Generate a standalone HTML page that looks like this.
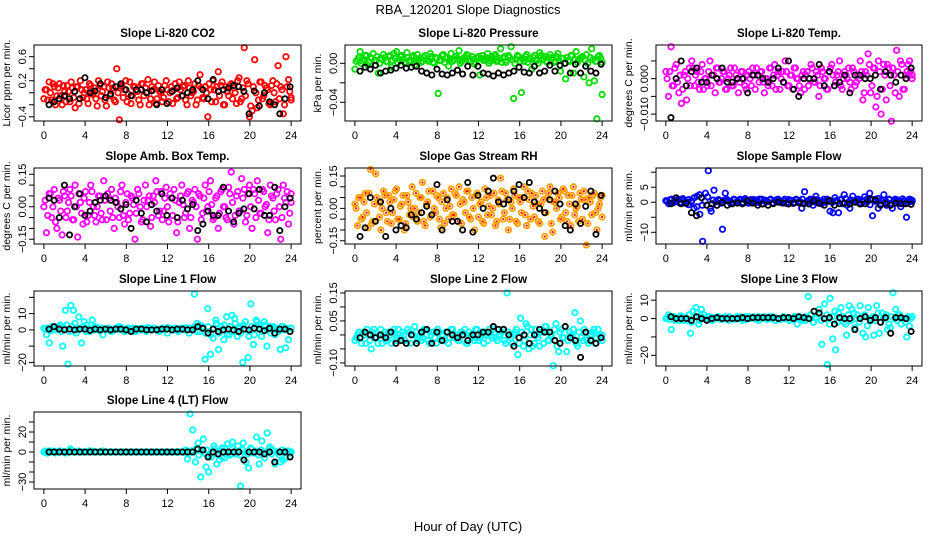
<!DOCTYPE html>
<html><head><meta charset="utf-8"><style>
body{margin:0;background:#fff;}
svg{display:block;font-family:"Liberation Sans",Arial,sans-serif;}
</style></head><body>
<svg id="chart" width="936" height="540" viewBox="0 0 936 540">
<text x="468" y="14" text-anchor="middle" font-size="13">RBA_120201  Slope Diagnostics</text>
<text x="468" y="531" text-anchor="middle" font-size="13">Hour of Day (UTC)</text>
</svg>
<script>
// ---------- data ----------
const xTicks=[0,4,8,12,16,20,24];
const titles=["Slope Li-820 CO2","Slope Li-820 Pressure","Slope Li-820 Temp.","Slope Amb. Box Temp.","Slope Gas Stream RH","Slope Sample Flow","Slope Line 1 Flow","Slope Line 2 Flow","Slope Line 3 Flow","Slope Line 4 (LT) Flow"];
const yTitles=["Licor ppm per min.","kPa per min.","degrees C per min.","degrees C per min.","percent per min.","ml/min per min.","ml/min per min.","ml/min per min.","ml/min per min.","ml/min per min."];
const colors=["#ff0000","#00dd00","#ff00ff","#ff00ff","#ffa000","#0000ff","#00ffff","#00ffff","#00ffff","#00ffff"];
const yRanges=[[-0.47,0.795],[-0.0592,0.0188],[-0.01195,0.0095],[-0.172,0.179],[-0.165,0.187],[-13.9,11.4],[-22.2,23.9],[-0.111,0.157],[-25.8,15.0],[-37,40]];
const yTicks=[[-0.4,-0.2,0,0.2,0.4,0.6],[-0.04,-0.02,0],[-0.01,-0.005,0,0.005],[-0.15,-0.1,-0.05,0,0.05,0.1,0.15],[-0.15,-0.1,-0.05,0,0.05,0.1,0.15],[-10,-5,0,5,10],[-20,-10,0,10,20],[-0.1,-0.05,0,0.05,0.1,0.15],[-20,-10,0,10],[-30,-20,-10,0,10,20,30]];
const yTickLabels=[{"-0.4":"-0.4","0.2":"0.2","0.6":"0.6"},{"-0.04":"-0.04","0":"0.00"},{"-0.01":"-0.010","0":"0.000"},{"-0.15":"-0.15","0":"0.00","0.15":"0.15"},{"-0.15":"-0.15","0":"0.00","0.15":"0.15"},{"-10":"-10","0":"0","5":"5"},{"-20":"-20","0":"0","10":"10"},{"-0.1":"-0.10","0.05":"0.05","0.15":"0.15"},{"-20":"-20","0":"0","10":"10"},{"-30":"-30","0":"0","20":"20"}];
const col0=[-0.1,0.05,0.18,-0.12,0.1,-0.05,0.15,-0.2,0.02,0.12,-0.15,0.08,-0.25,0.1,0.2,-0.08,0.05,-0.18,0.12,0.0,-0.1,0.2,-0.05,0.1,-0.22,0.08,0.15,-0.12,0.4,-0.45,0.1,0.05,-0.15,0.18,-0.05,0.1,0.02,-0.2,0.15,0.08,0.22,-0.1,0.05,-0.18,0.12,0.0,-0.08,0.2,-0.15,0.1,0.05,-0.1,0.18,-0.05,0.12,-0.2,0.08,0.0,0.15,-0.12,0.3,-0.08,0.1,-0.4,0.05,0.2,-0.15,0.35,0.12,-0.2,0.1,-0.05,0.15,0.08,-0.18,0.25,-0.1,0.75,0.2,-0.4,-0.3,0.55,-0.25,0.18,-0.1,0.12,0.05,-0.2,0.2,-0.15,0.45,0.1,-0.35,0.6,0.22,-0.12];
const band0=[0.05,-0.12,0.0,0.15,-0.2,0.08,-0.05,0.12,-0.15,0.02,0.18,-0.08,0.1,-0.18,0.05,0.0,-0.1,0.15,-0.02,0.08,-0.22,0.12,0.02,-0.12,0.18,-0.05,0.08,-0.15,0.0,0.12,-0.08,0.2,-0.02,-0.18,0.1,0.05,-0.12,0.15,-0.05,0.0,-0.2,0.1,0.18,-0.1,0.02,-0.15,0.12,0.05,0.0,-0.18,0.15,-0.08,0.05,0.1,-0.12,0.2,-0.05,0.02,-0.2,0.12,0.08,-0.1,0.0,0.15,-0.15,0.05,0.1,-0.05,0.18,-0.2,0.02,0.12,-0.1,0.0,0.2,-0.15,0.08,-0.05,0.15,-0.22,0.1,0.0,-0.12,0.18,-0.05,0.08,-0.18,0.12,0.0,0.15,-0.1,0.05,-0.2,0.1,0.02,-0.08];
const blk0=[-0.2,-0.15,-0.1,-0.05,-0.1,0.02,-0.1,0.25,0.0,0.03,0.15,-0.08,-0.02,0.1,0.15,0.05,-0.05,0.05,0.05,0.0,0.03,-0.2,0.05,-0.18,0.02,0.08,-0.05,0.0,0.05,0.2,0.05,-0.1,0.22,0.02,0.05,0.08,0.12,0.1,0.02,-0.35,0.03,-0.22,0.0,-0.15,-0.2,-0.35,-0.1,0.1];
const col1=[-0.006,0.004,0.012,0.002,0.008,-0.002,0.006,0.01,0.003,-0.01,0.005,0.009,0.002,0.007,-0.004,0.01,0.012,0.004,0.008,0.001,0.011,0.003,0.006,-0.002,0.009,0.005,0.002,0.008,0.004,0.01,0.001,0.006,-0.031,0.003,0.009,0.005,-0.003,0.01,0.004,0.007,0.013,0.002,0.006,0.009,0.003,0.007,-0.001,0.005,-0.012,0.008,0.004,0.01,0.002,0.006,0.009,0.003,0.015,0.005,0.001,0.008,0.017,-0.036,0.004,0.007,-0.03,0.002,0.009,0.005,-0.006,0.008,0.003,0.011,0.004,0.007,0.001,0.009,0.006,0.002,0.01,-0.008,0.005,-0.016,0.003,0.008,-0.01,0.012,0.004,0.006,-0.014,0.009,-0.02,0.015,-0.018,-0.057,0.008,-0.032];
const band1=[0.002,0.006,0.0,0.004,0.008,0.001,0.005,0.003,0.007,0.0,0.004,0.006,0.002,0.008,0.003,0.005,0.001,0.007,0.004,0.0,0.006,0.002,0.008,0.005,0.003,0.001,0.006,0.004,0.002,0.007,0.0,0.005,0.003,0.008,0.001,0.006,0.004,0.002,0.007,0.005,0.0,0.003,0.006,0.008,0.002,0.004,0.001,0.007,0.005,0.003,0.006,0.0,0.004,0.008,0.002,0.005,0.001,0.007,0.003,0.006,0.004,0.0,0.008,0.002,0.005,0.007,0.001,0.004,0.006,0.003,0.0,0.008,0.005,0.002,0.006,0.004,0.001,0.007,0.003,0.005,0.0,0.006,0.002,0.008,0.004,0.001,0.005,0.007,0.003,0.0,0.006,0.004,0.002,0.007,0.005,0.001];
const blk1=[-0.008,-0.004,-0.006,-0.002,-0.01,-0.008,-0.007,-0.005,-0.002,-0.005,-0.004,-0.003,-0.008,-0.01,-0.012,-0.006,-0.011,-0.012,-0.01,-0.007,-0.011,-0.003,-0.012,-0.003,-0.01,-0.011,-0.013,-0.01,-0.012,-0.01,-0.008,-0.004,-0.009,-0.01,-0.003,-0.01,-0.008,-0.002,-0.008,-0.002,0.0,-0.01,-0.001,-0.01,-0.003,-0.008,-0.01,-0.001];
const col2=[0.002,-0.005,0.009,-0.002,0.004,-0.004,-0.007,0.001,-0.006,0.003,0.005,-0.002,0.002,-0.003,0.004,0.0,-0.002,0.005,0.001,-0.004,0.003,-0.001,0.002,-0.003,0.0,0.003,-0.002,0.001,-0.004,0.002,0.0,-0.003,0.002,-0.002,0.001,0.003,-0.001,0.002,-0.004,0.0,0.003,-0.002,0.004,0.001,-0.003,0.002,0.005,-0.002,0.001,-0.003,0.003,0.0,-0.004,0.002,0.001,-0.002,0.004,-0.001,0.002,-0.005,0.003,0.0,-0.003,0.002,0.004,-0.002,0.001,0.005,-0.003,0.002,0.0,-0.001,0.003,-0.002,0.001,0.005,-0.006,0.002,0.007,-0.004,0.003,-0.008,0.005,-0.01,0.004,-0.006,0.003,-0.012,0.001,0.008,-0.005,0.004,-0.003,0.002,0.005,0.001];
const band2=[0.0,0.002,-0.002,0.003,-0.001,0.001,-0.003,0.002,0.0,-0.002,0.003,0.001,-0.001,0.002,-0.003,0.0,0.002,-0.002,0.001,0.003,-0.001,0.0,0.002,-0.003,0.001,-0.002,0.003,0.0,-0.001,0.002,-0.002,0.001,0.0,0.003,-0.003,0.001,0.002,-0.001,0.0,-0.002,0.003,0.001,-0.003,0.002,0.0,-0.001,0.002,-0.002,0.001,0.003,0.0,-0.002,0.001,-0.003,0.002,0.0,0.003,-0.001,0.001,-0.002,0.002,0.0,-0.003,0.003,0.001,-0.001,0.002,-0.002,0.0,0.001,0.003,-0.003,0.002,-0.001,0.0,0.002,-0.004,0.001,0.004,-0.002,0.003,-0.005,0.002,-0.003,0.001,0.004,-0.002,0.003,-0.004,0.002,0.005,-0.003,0.001,0.004,0.002,0.0];
const blk2=[-0.011,0.0,0.005,-0.002,0.002,0.003,-0.001,-0.001,0.001,0.0,0.003,-0.001,-0.001,0.0,0.0,-0.004,0.001,0.001,0.0,-0.001,0.0,0.003,-0.001,0.005,-0.003,-0.005,0.0,0.0,0.0,0.004,-0.002,0.002,-0.002,-0.001,0.001,-0.004,0.001,0.001,0.0,0.0,0.001,-0.003,0.002,0.001,-0.001,0.001,0.0,0.003];
const col3=[0.0,-0.12,0.06,-0.05,0.08,-0.1,0.03,-0.13,0.05,-0.02,0.08,-0.06,0.1,-0.14,0.02,-0.08,0.07,-0.04,0.1,0.0,-0.07,0.05,-0.03,0.12,-0.06,0.04,0.08,-0.1,0.02,-0.05,0.1,-0.08,0.06,-0.03,0.04,-0.15,0.08,0.0,-0.06,0.1,0.03,-0.09,0.05,0.12,-0.04,0.07,-0.02,0.09,-0.07,0.04,0.08,-0.12,0.02,0.1,-0.05,0.06,-0.1,0.03,0.08,-0.15,0.05,-0.03,0.1,0.0,0.12,-0.06,0.04,-0.1,0.07,0.0,-0.05,0.09,0.16,-0.08,0.05,-0.02,0.13,0.08,-0.04,0.1,-0.1,0.06,0.12,-0.03,0.08,0.0,-0.12,0.1,0.04,-0.06,0.08,-0.15,0.1,0.02,-0.08,0.06];
const band3=[0.03,-0.04,0.06,0.0,-0.07,0.04,-0.02,0.07,-0.05,0.02,0.05,-0.06,0.0,0.06,-0.03,0.04,-0.07,0.02,0.07,-0.04,0.0,0.05,-0.06,0.03,0.06,-0.02,-0.05,0.04,0.0,0.07,-0.04,0.02,-0.06,0.05,0.01,-0.03,0.06,-0.07,0.03,0.0,0.05,-0.05,0.02,0.07,-0.02,-0.06,0.04,0.0,0.06,-0.04,0.03,-0.07,0.05,0.01,-0.03,0.07,-0.05,0.02,0.0,0.06,-0.06,0.04,-0.02,0.07,0.01,-0.05,0.05,-0.03,0.08,0.0,-0.06,0.06,0.02,-0.04,0.07,-0.02,0.04,-0.07,0.06,0.0,0.08,-0.05,0.03,-0.03,0.07,0.01,-0.06,0.05,-0.02,0.06,0.0,-0.05,0.04,0.07,-0.03,0.02];
const blk3=[0.04,0.03,-0.05,0.1,-0.13,0.0,0.06,-0.04,-0.02,0.02,0.03,0.05,0.03,0.02,-0.01,0.01,-0.1,0.03,-0.03,-0.07,0.01,-0.02,0.06,-0.04,0.04,-0.05,0.03,-0.01,0.01,-0.11,-0.08,-0.02,-0.04,-0.04,0.09,-0.02,-0.07,-0.03,-0.01,0.06,-0.01,0.08,-0.04,-0.04,0.09,-0.11,0.0,0.04];
const col4=[0.02,-0.08,0.05,-0.04,0.07,-0.09,0.18,-0.06,0.16,0.03,-0.1,0.08,-0.02,0.06,-0.07,0.04,0.09,-0.05,0.02,-0.1,0.06,-0.03,0.1,0.0,-0.06,0.05,0.12,-0.08,0.03,-0.04,0.08,-0.02,0.05,-0.09,0.07,0.0,-0.05,0.09,-0.03,0.06,0.1,-0.07,0.03,0.08,-0.04,0.05,-0.1,0.07,0.02,-0.06,0.09,-0.03,0.06,0.0,-0.08,0.04,0.14,-0.05,0.07,-0.1,0.03,0.09,-0.06,0.05,-0.02,0.1,-0.08,0.04,0.07,-0.04,0.02,-0.07,0.08,-0.13,0.05,0.1,-0.11,0.03,0.07,-0.05,0.09,-0.02,0.06,-0.08,0.1,0.0,-0.06,0.04,0.08,-0.17,0.05,-0.03,0.07,-0.1,0.02,0.06];
const band4=[0.0,0.05,-0.05,0.03,-0.02,0.07,-0.07,0.02,0.05,-0.04,0.0,0.06,-0.06,0.03,-0.02,0.08,-0.05,0.01,0.06,-0.07,0.03,0.0,-0.04,0.07,-0.02,0.05,-0.06,0.02,0.08,-0.03,0.0,0.06,-0.05,0.03,-0.07,0.05,0.01,-0.03,0.07,-0.06,0.02,0.04,-0.02,0.08,-0.05,0.0,0.06,-0.04,0.03,-0.07,0.05,0.01,-0.03,0.07,-0.06,0.02,0.08,-0.02,0.04,-0.05,0.0,0.06,-0.07,0.03,0.05,-0.03,0.08,-0.05,0.01,0.06,-0.06,0.02,0.04,-0.02,0.07,-0.07,0.03,0.0,0.05,-0.04,0.08,-0.06,0.02,0.06,-0.03,0.01,0.07,-0.05,0.04,-0.07,0.03,0.06,-0.02,0.0,0.05,-0.04];
const blk4=[-0.13,-0.09,0.05,-0.06,0.03,-0.13,0.0,-0.1,-0.08,-0.09,-0.03,-0.05,-0.02,0.01,-0.03,0.11,-0.1,0.04,-0.06,-0.06,-0.1,0.12,-0.11,0.06,0.0,0.08,0.14,0.03,0.02,0.04,0.08,0.11,0.05,0.12,0.03,0.0,-0.02,0.04,0.08,0.02,-0.08,-0.1,0.02,-0.07,0.01,0.08,-0.12,0.06];
const col5=[0.5,-0.5,1,0,0.8,-0.3,1.2,0.2,-0.8,0.5,-2,2,-4,-13,3,10.5,-3,4,-1,0.5,-9,3,0.5,-0.5,1,0,0.8,-0.5,1.2,0.3,-0.2,0.9,0,1,-0.5,0.7,0.2,1,-0.3,0.8,0.4,-0.2,1,0,0.6,-0.4,1,0.2,-2,3.5,0,1,-1,2,0.5,-0.5,0,1,-3,-3.5,0.5,-3.5,1,2.5,-1,-2,2,0.5,1,-0.5,0.3,1,3,-4.5,1,-2,0.5,2.5,-1,0.8,-2,1,0,-1.5,0.5,-5,1,0.3];
const band5=[0.3,0.8,-0.2,0.5,1.0,0.0,0.6,-0.4,0.9,0.2,1.5,-1.5,2.5,-1,0.4,1.8,-2,0.7,0.1,0.9,-0.3,0.6,1.0,0.2,-0.2,0.8,0.4,1.0,0.0,0.6,-0.3,0.9,0.3,0.7,-0.1,1.0,0.5,0.2,0.8,-0.2,0.6,1.0,0.1,0.4,-0.3,0.9,0.6,0.0,0.8,0.3,1.0,-0.2,0.5,0.7,0.1,0.9,-0.3,0.4,1.0,0.2,0.6,-0.1,1.5,0.3,0.8,-0.5,1.2,0.0,0.7,0.4,1.0,-0.2,0.6,1.8,0.2,-0.8,0.9,0.3,1.2,-0.4,0.7,0.1,1.0,-0.3,0.5,0.8,0.0,1.1,0.4,-0.2,0.9,0.6];
const blk5=[-0.5,1.5,-0.5,-0.3,-3.5,-4.5,1.5,-1,-0.5,-1,0,-1,-0.5,-0.3,-0.5,0.5,-0.3,-1,-0.6,-1,-0.5,0,-0.3,-0.6,-0.3,-0.2,-0.5,-0.6,0.5,-0.3,-1,0.5,-1,-0.5,-0.3,-0.6,0,-0.6,-0.5,1,0.8,-1,-0.5,-1,-0.3,-0.5,-0.5,-0.7];
const col6=[1,-3,-8,2,0,1,3,-10,12,-21,15,12,-2,8,-8,5,3,-1,6,2,0,1,-3,0,1,-1,0,1,2,0,-1,1,0,1,-1,0,1,0,-1,1,0,1,0,-1,1,0,-2,1,0,1,-1,0,1,0,-2,1,22,4,-1,2,-18,13,-15,-5,6,-12,2,-6,8,-3,9,7,-4,2,-20,5,-17,16,-9,6,3,-4,5,-10,2,1,-3,0,-12,2,-11,-6,1];
const band6=[0.5,1,-0.5,1.5,0,2,-1,1,3,-1,2,4,0,1,2,-1,1,0.5,0,1.5,-0.5,1,0,1,0.5,-0.5,1,0,1.5,0.5,0,1,-0.5,1,0.5,0,1,-0.5,1.5,0,1,0.5,-0.5,1,0,1.5,0.5,0,1,-0.5,1,0,1.5,0.5,0,2,-1,3,1,-2,2,-3,1,4,-2,0,3,-3,2,-1,4,1,-2,3,0,-4,2,-3,5,1,-1,3,0,-2,2,1,-1,2,0,1,-1,1];
const blk6=[0.5,2,0.5,0,0.5,0,0.5,0.5,-0.3,0.5,0,0.5,0,0.5,0.5,0,-1,0.5,0.5,0,0,0,0.5,0.5,0,0.5,0.5,0,0,2,1,-2,0.5,-1,0,0.5,0,-1,0.5,0,1,0.5,-0.5,1,-2,0.5,0.5,-1];
const col7=[-0.02,0.0,-0.01,0.01,-0.03,0.0,-0.05,0.02,-0.01,0.0,-0.03,0.01,-0.02,0.0,0.01,-0.02,0.02,-0.01,0.0,-0.03,0.01,0.0,0.03,-0.02,0.0,-0.01,0.02,-0.02,0.0,0.01,-0.03,0.01,0.0,-0.02,0.01,-0.01,0.02,0.0,-0.02,0.01,0.0,-0.03,0.01,0.0,-0.02,0.02,-0.01,0.0,0.01,-0.02,0.0,0.02,-0.01,0.0,0.01,-0.02,0.15,0.0,-0.03,0.01,-0.07,0.06,-0.04,0.04,-0.05,0.02,-0.03,0.0,-0.04,0.01,0.03,-0.02,0.0,-0.11,0.04,-0.06,0.02,-0.01,-0.06,0.01,0.0,0.08,-0.04,0.05,-0.02,0.01,-0.03,0.0,0.02,-0.01,0.0,-0.02];
const band7=[-0.01,0.01,-0.03,0.0,0.02,-0.02,0.01,-0.01,-0.03,0.02,0.0,-0.02,0.01,-0.03,0.02,-0.01,0.0,0.01,-0.02,0.02,-0.03,0.0,0.01,-0.01,-0.02,0.02,0.0,-0.03,0.01,-0.01,0.02,-0.02,0.0,0.01,-0.03,0.02,-0.01,0.0,-0.02,0.01,0.02,-0.03,0.0,-0.01,0.02,-0.02,0.01,-0.03,0.0,0.02,-0.01,0.01,-0.02,0.0,0.02,-0.03,0.01,-0.01,0.0,0.02,-0.03,0.01,-0.02,0.03,0.0,-0.04,0.02,-0.01,0.01,-0.03,0.03,-0.02,0.0,0.02,-0.04,0.01,-0.01,0.03,-0.02,0.0,0.02,-0.03,0.01,-0.01,0.02,-0.02,0.0,0.01,-0.03,0.02,-0.01,0.0];
const blk7=[-0.01,0.01,0.0,-0.01,0.0,-0.01,0.01,-0.03,-0.02,-0.03,0.0,-0.03,0.01,0.02,-0.03,0.01,-0.02,0.01,0.0,-0.01,0.0,-0.02,0.0,0.0,0.01,0.01,0.03,0.02,0.02,0.0,-0.04,-0.01,0.0,-0.03,0.0,0.02,0.01,0.01,-0.02,-0.03,0.03,-0.01,-0.02,-0.08,0.01,-0.02,-0.03,-0.01];
const col8=[0,2,-6,1,0,-1,1,0,-1,-8,4,6,-3,5,2,0,1,-1,0,1,0,0,1,-1,0,0,1,0,-1,1,0,0,1,0,-1,0,1,0,0,1,-1,0,0,1,0,-1,0,1,-3,1,0,-1,12,2,-2,0,5,-14,8,-25,11,-11,-17,3,6,-2,-9,7,5,-5,2,7,-8,-10,6,-1,-9,7,-8,3,1,-6,-5,14,5,2,-3,0,-10,-4,1];
const band8=[0.5,-0.5,1,-1,0,1.5,-1,0.5,2,-2,1,3,-1,0.5,0,1,-0.5,0.5,0,1,-0.5,0.5,0,1,0,-0.5,0.5,1,0,-0.5,1,0,0.5,-0.5,1,0,0.5,-0.5,1,0,0.5,0,-0.5,1,0,0.5,-0.5,1,0,0.5,-1,1,0,2,-2,1,3,-1,0,2,-3,1,4,-2,0,1,-3,2,-1,3,0,-2,1,2,-4,0,1,-1,3,-2,0,2,-3,1,0,-1,2,0,-2,1,0,1];
const blk8=[1,0,0,0,-1,1,0,-1,0,0.5,0,0,0,0,0.5,0,0.5,0.5,0.5,0.5,0.5,0,0.5,0.5,0,1,0.5,0,4,3,0,0.5,-3,0.5,0,0,-6,0,1,-1,0.5,-2,0.5,-8,0.5,0.5,0,-7];
const col9=[0,-1,1,0,0,0,1,0,0,0,3,0,0,0,0,0,0,0,1,0,0,0,0,0,0,0,0,0,0,0,0,0,0,0,0,0,0,0,0,0,0,0,0,0,0,0,0,0,0,0,0,0,0,0,-7,38,22,-10,9,-25,13,-15,-20,-5,6,-12,-8,4,-6,8,-3,10,-2,6,-34,9,-10,-16,3,-1,15,-12,11,-6,19,5,2,-12,0,-10,-8,-6,1,0];
const band9=[1,-1,0,1,-1,0,1,0,-1,0,1,0,0,1,0,0,0,1,0,0,0,0,1,0,0,0,0,0,0,0,0,0,0,0,0,0,0,0,0,0,0,0,0,0,0,0,0,0,0,0,0,0,0,0,2,-2,1,0,3,-3,1,-1,2,-4,0,3,-2,1,-5,4,0,-2,3,-1,1,-3,2,0,-2,4,-1,1,-3,2,0,-1,3,-2,1,0,-3,2,0,1,-1,0];
const blk9=[0,0,0,0,0,0,0,0,0,0,0,0,0,0,0,0,0,0,0,0,0,0,0,0,0,0,0,0,0,3,2,-5,0,-2,0,0,0,0,-8,0,0,0,-2,0,-10,0,0,-5];
const colSeries=[col0,col1,col2,col3,col4,col5,col6,col7,col8,col9];
const bandSeries=[band0,band1,band2,band3,band4,band5,band6,band7,band8,band9];
const blkSeries=[blk0,blk1,blk2,blk3,blk4,blk5,blk6,blk7,blk8,blk9];

// ---------- layout ----------
const NS="http://www.w3.org/2000/svg";
const svg=document.getElementById('chart');
const colX=[[34,301],[345,612],[656,922]];
const rowY=[[45,121],[168,244],[291,366],[412,489]];
function mk(tag,attrs,parent){const e=document.createElementNS(NS,tag);for(const k in attrs)e.setAttribute(k,attrs[k]);(parent||svg).appendChild(e);return e;}
function fmtKey(v){return String(+v.toFixed(6));}

for(let p=0;p<10;p++){
  const L=colX[p%3][0],R=colX[p%3][1],T=rowY[Math.floor(p/3)][0],B=rowY[Math.floor(p/3)][1];
  const g=mk('g',{});
  
  
  const pad=(R-L)*0.04/1.08;
  const xs=h=>L+pad+h/24*(R-L-2*pad);
  const [y0,y1]=yRanges[p];
  const ys=v=>B-(v-y0)/(y1-y0)*(B-T);
  const t=mk('text',{x:(L+R)/2,y:T-8,'text-anchor':'middle','font-size':11.5,'font-weight':'bold'},g);
  t.textContent=titles[p];
  
  
  const yt=mk('text',{x:0,y:0,'text-anchor':'middle','font-size':10.5,transform:`translate(${L-24},${(T+B)/2}) rotate(-90)`},g);
  yt.textContent=yTitles[p];
  
  
  const cg=mk('g',{fill:'none',stroke:colors[p],'stroke-width':1.8},g);
  
  
  const drawCol=(arr,off)=>arr.forEach((v,i)=>{
    const hx=Math.min(24,Math.max(0,i*24/(arr.length-1)+off));
    const c=mk('circle',{cx:xs(hx),cy:ys(v),r:2.7},cg);
    
    
    if(p===4){mk('circle',{cx:xs(hx),cy:ys(v),r:1.1,fill:'#ff0000',stroke:'none'},cg);}
  });
  drawCol(bandSeries[p],0.12);
  drawCol(colSeries[p],0);
  const bs=blkSeries[p];
  const bg=mk('g',{fill:'none',stroke:'#000','stroke-width':1.8},g);
  
  
  bs.forEach((v,i)=>{
    const c=mk('circle',{cx:xs(0.5+i*23.4/(bs.length-1)),cy:ys(v),r:2.6},bg);
    
    
  });
  const bx=mk('rect',{x:L,y:T,width:R-L,height:B-T,fill:'none',stroke:'#000','stroke-width':1},g);
  
  
  const xa=mk('g',{stroke:'#000','stroke-width':1},g);
  
  
  mk('line',{x1:xs(0),x2:xs(24),y1:B,y2:B},xa);
  xTicks.forEach(h=>{
    mk('line',{x1:xs(h),x2:xs(h),y1:B,y2:B+5},xa);
    const tl=mk('text',{x:xs(h),y:B+18,'text-anchor':'middle','font-size':11,stroke:'none',fill:'#000'},xa);
    tl.textContent=h;
    
    
  });
  const ya=mk('g',{stroke:'#000','stroke-width':1},g);
  
  
  const tk=yTicks[p];
  mk('line',{x1:L,x2:L,y1:ys(tk[0]),y2:ys(tk[tk.length-1])},ya);
  tk.forEach(v=>{
    mk('line',{x1:L-5,x2:L,y1:ys(v),y2:ys(v)},ya);
    const lab=yTickLabels[p][fmtKey(v)];
    if(lab!==undefined){
      const tl=mk('text',{x:0,y:0,'text-anchor':'middle','font-size':11,stroke:'none',fill:'#000',transform:`translate(${L-8},${ys(v)}) rotate(-90)`},ya);
      tl.textContent=lab.replace('-','\u2212');
      
      
    }
  });
}
</script>
</body></html>
